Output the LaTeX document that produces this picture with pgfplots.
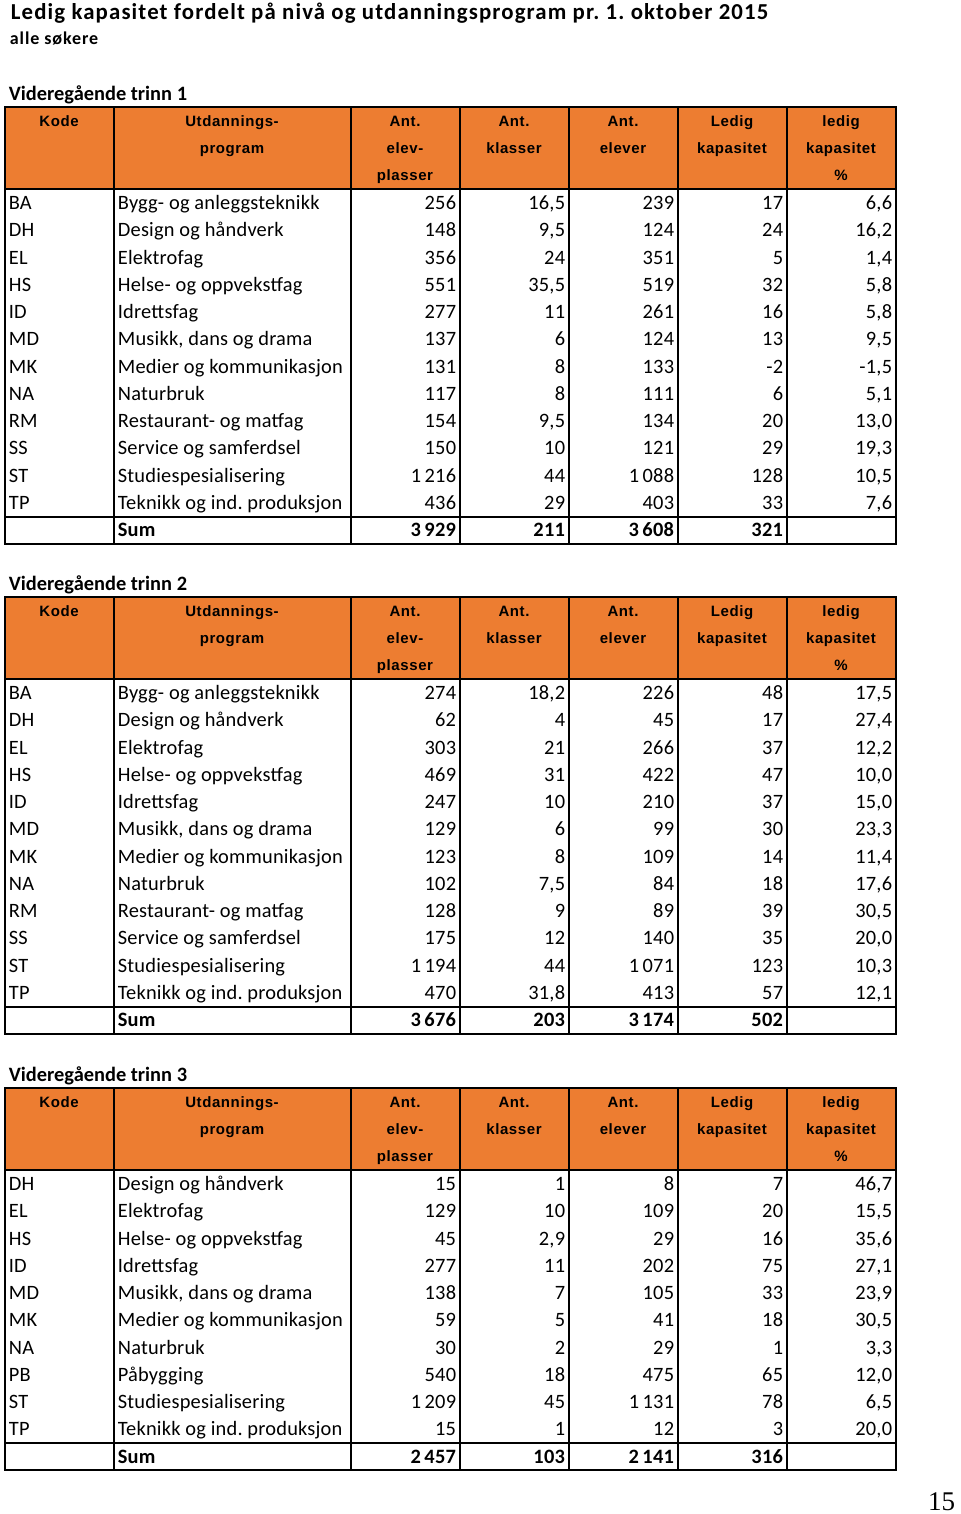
\documentclass[border=0pt]{standalone}
\usepackage{fontspec}
\setmainfont[LetterSpace=1]{Carlito}
\newfontfamily\hdrfont[LetterSpace=4]{Liberation Sans}
\newfontfamily\ttlfont[LetterSpace=5]{Carlito}
\newfontfamily\secfont{Carlito}
\newfontfamily\pgfont{Liberation Serif}
\usepackage{pgfplots}
\pgfplotsset{compat=1.18}
\definecolor{hdr}{HTML}{ED7D31}
\frenchspacing

% header label: y0, offset, x, text
\newcommand\hlab[4]{\node[anchor=base,font=\hdrfont\bfseries\fontsize{7.5}{9}\selectfont] at (axis cs:#3,{#1+#2+5.4}) {#4};}

% table frame and header: y0 (header top), data rows, trinn
\newcommand\tblhead[3]{%
  \fill[hdr] (axis cs:5,#1) rectangle (axis cs:896,{#1+82});
  \node[anchor=base west,font=\secfont\fontsize{10.2}{12}\selectfont\bfseries] at (axis cs:8,{#1-6.5}) {Videregående trinn #3};
  \hlab{#1}{14}{59}{Kode}
  \hlab{#1}{14}{232}{Utdannings-}
  \hlab{#1}{41}{232}{program}
  \hlab{#1}{14}{405}{Ant.}
  \hlab{#1}{41}{405}{elev-}
  \hlab{#1}{68}{405}{plasser}
  \hlab{#1}{14}{514}{Ant.}
  \hlab{#1}{41}{514}{klasser}
  \hlab{#1}{14}{623}{Ant.}
  \hlab{#1}{41}{623}{elever}
  \hlab{#1}{14}{732}{Ledig}
  \hlab{#1}{41}{732}{kapasitet}
  \hlab{#1}{14}{841}{ledig}
  \hlab{#1}{41}{841}{kapasitet}
  \hlab{#1}{68}{841}{\%}
  \draw (axis cs:5,#1) rectangle (axis cs:896,{#1+96+27.27*#2+13.5});
  \draw (axis cs:5,{#1+82}) -- (axis cs:896,{#1+82});
  \draw (axis cs:5,{#1+96+27.27*#2-13.5}) -- (axis cs:896,{#1+96+27.27*#2-13.5});
  \draw (axis cs:114,#1) -- (axis cs:114,{#1+96+27.27*#2+13.5});
  \draw (axis cs:351,#1) -- (axis cs:351,{#1+96+27.27*#2+13.5});
  \draw (axis cs:460,#1) -- (axis cs:460,{#1+96+27.27*#2+13.5});
  \draw (axis cs:569,#1) -- (axis cs:569,{#1+96+27.27*#2+13.5});
  \draw (axis cs:678,#1) -- (axis cs:678,{#1+96+27.27*#2+13.5});
  \draw (axis cs:787,#1) -- (axis cs:787,{#1+96+27.27*#2+13.5});
}

% data row: y0, row index, kode, program, plasser, klasser, elever, ledig, ledig %
\newcommand\trow[9]{%
  \node[anchor=base west] at (axis cs:8,{#1+102.5+27.27*#2}) {#3};
  \node[anchor=base west] at (axis cs:117,{#1+102.5+27.27*#2}) {#4};
  \node[anchor=base east] at (axis cs:457,{#1+102.5+27.27*#2}) {#5};
  \node[anchor=base east] at (axis cs:566,{#1+102.5+27.27*#2}) {#6};
  \node[anchor=base east] at (axis cs:675,{#1+102.5+27.27*#2}) {#7};
  \node[anchor=base east] at (axis cs:784,{#1+102.5+27.27*#2}) {#8};
  \node[anchor=base east] at (axis cs:893,{#1+102.5+27.27*#2}) {#9};
}

\begin{document}
\begin{tikzpicture}[every node/.append style={inner sep=0pt, font=\fontsize{10.2}{12}\selectfont}]
\begin{axis}[
  width=480pt, height=757pt, scale only axis,
  xmin=0, xmax=960, ymin=0, ymax=1514, y dir=reverse,
  hide axis, clip=false,
]
\path (axis cs:0,0) rectangle (axis cs:960,1514);
\begin{scope}[line width=0.9pt]

\node[anchor=base west,font=\ttlfont\bfseries\fontsize{11.4}{14}\selectfont] at (axis cs:10,20) {Ledig kapasitet fordelt på nivå og utdanningsprogram pr. 1. oktober 2015};
\node[anchor=base west,font=\ttlfont\bfseries\fontsize{9}{10}\selectfont] at (axis cs:9,45) {alle søkere};

% Videregående trinn 1
\tblhead{107}{12}{1}
\trow{107}{0}{BA}{Bygg- og anleggsteknikk}{256}{16,5}{239}{17}{6,6}
\trow{107}{1}{DH}{Design og håndverk}{148}{9,5}{124}{24}{16,2}
\trow{107}{2}{EL}{Elektrofag}{356}{24}{351}{5}{1,4}
\trow{107}{3}{HS}{Helse- og oppvekstfag}{551}{35,5}{519}{32}{5,8}
\trow{107}{4}{ID}{Idrettsfag}{277}{11}{261}{16}{5,8}
\trow{107}{5}{MD}{Musikk, dans og drama}{137}{6}{124}{13}{9,5}
\trow{107}{6}{MK}{Medier og kommunikasjon}{131}{8}{133}{-2}{-1,5}
\trow{107}{7}{NA}{Naturbruk}{117}{8}{111}{6}{5,1}
\trow{107}{8}{RM}{Restaurant- og matfag}{154}{9,5}{134}{20}{13,0}
\trow{107}{9}{SS}{Service og samferdsel}{150}{10}{121}{29}{19,3}
\trow{107}{10}{ST}{Studiespesialisering}{1\,216}{44}{1\,088}{128}{10,5}
\trow{107}{11}{TP}{Teknikk og ind. produksjon}{436}{29}{403}{33}{7,6}
\trow{107}{12}{}{\textbf{Sum}}{\textbf{3\,929}}{\textbf{211}}{\textbf{3\,608}}{\textbf{321}}{}

% Videregående trinn 2
\tblhead{597}{12}{2}
\trow{597}{0}{BA}{Bygg- og anleggsteknikk}{274}{18,2}{226}{48}{17,5}
\trow{597}{1}{DH}{Design og håndverk}{62}{4}{45}{17}{27,4}
\trow{597}{2}{EL}{Elektrofag}{303}{21}{266}{37}{12,2}
\trow{597}{3}{HS}{Helse- og oppvekstfag}{469}{31}{422}{47}{10,0}
\trow{597}{4}{ID}{Idrettsfag}{247}{10}{210}{37}{15,0}
\trow{597}{5}{MD}{Musikk, dans og drama}{129}{6}{99}{30}{23,3}
\trow{597}{6}{MK}{Medier og kommunikasjon}{123}{8}{109}{14}{11,4}
\trow{597}{7}{NA}{Naturbruk}{102}{7,5}{84}{18}{17,6}
\trow{597}{8}{RM}{Restaurant- og matfag}{128}{9}{89}{39}{30,5}
\trow{597}{9}{SS}{Service og samferdsel}{175}{12}{140}{35}{20,0}
\trow{597}{10}{ST}{Studiespesialisering}{1\,194}{44}{1\,071}{123}{10,3}
\trow{597}{11}{TP}{Teknikk og ind. produksjon}{470}{31,8}{413}{57}{12,1}
\trow{597}{12}{}{\textbf{Sum}}{\textbf{3\,676}}{\textbf{203}}{\textbf{3\,174}}{\textbf{502}}{}

% Videregående trinn 3
\tblhead{1088}{10}{3}
\trow{1088}{0}{DH}{Design og håndverk}{15}{1}{8}{7}{46,7}
\trow{1088}{1}{EL}{Elektrofag}{129}{10}{109}{20}{15,5}
\trow{1088}{2}{HS}{Helse- og oppvekstfag}{45}{2,9}{29}{16}{35,6}
\trow{1088}{3}{ID}{Idrettsfag}{277}{11}{202}{75}{27,1}
\trow{1088}{4}{MD}{Musikk, dans og drama}{138}{7}{105}{33}{23,9}
\trow{1088}{5}{MK}{Medier og kommunikasjon}{59}{5}{41}{18}{30,5}
\trow{1088}{6}{NA}{Naturbruk}{30}{2}{29}{1}{3,3}
\trow{1088}{7}{PB}{Påbygging}{540}{18}{475}{65}{12,0}
\trow{1088}{8}{ST}{Studiespesialisering}{1\,209}{45}{1\,131}{78}{6,5}
\trow{1088}{9}{TP}{Teknikk og ind. produksjon}{15}{1}{12}{3}{20,0}
\trow{1088}{10}{}{\textbf{Sum}}{\textbf{2\,457}}{\textbf{103}}{\textbf{2\,141}}{\textbf{316}}{}

\node[anchor=base east,font=\pgfont\fontsize{13.5}{16}\selectfont] at (axis cs:956,1510) {15};
\end{scope}
\end{axis}
\end{tikzpicture}
\end{document}
